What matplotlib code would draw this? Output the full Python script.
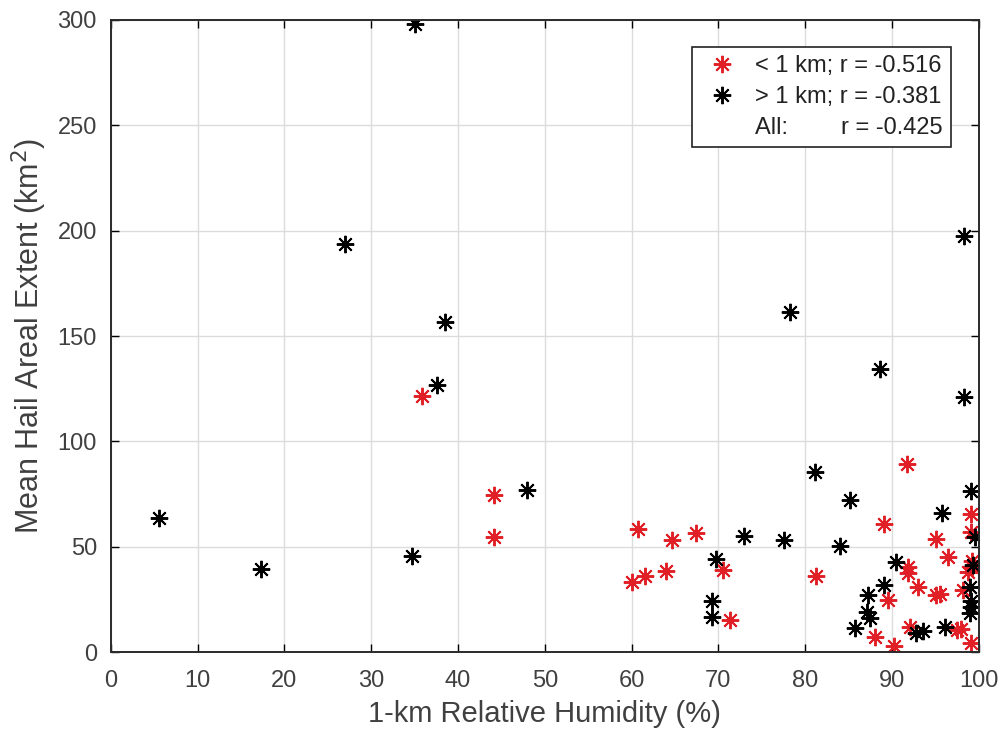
import matplotlib
matplotlib.use("Agg")
import matplotlib.pyplot as plt
from matplotlib.lines import Line2D

plt.rcParams['font.family'] = ['Liberation Sans', 'DejaVu Sans']

# < 1 km cases (red)
low_rh = [35.8, 44.1, 44.1, 60.8, 64.7, 67.4, 70.5, 60.0, 61.5, 64.0, 71.4, 81.2,
          91.7, 89.1, 99.1, 99.1, 95.1, 96.5, 91.8, 91.9, 93.0, 95.1, 95.6, 89.6,
          98.2, 88.0, 92.1, 97.5, 98.0, 90.3, 99.1, 99.2, 99.2, 98.8]
low_area = [121.5, 74.5, 54.4, 58.2, 53.2, 56.3, 38.9, 33.4, 36.2, 38.4, 15.2, 36.2,
            89.1, 60.7, 65.4, 57.1, 53.5, 45.2, 40.5, 37.4, 31.0, 27.1, 27.6, 24.7,
            29.4, 7.0, 12.0, 10.4, 10.8, 2.8, 4.4, 43.0, 40.3, 37.8]

# > 1 km cases (black)
high_rh = [5.6, 17.3, 27.0, 35.0, 38.5, 37.6, 34.7, 48.0, 69.7, 73.0, 77.6, 69.3,
           69.3, 78.3, 88.6, 98.3, 98.3, 81.1, 85.2, 95.8, 99.1, 99.6, 84.0, 90.5,
           89.1, 87.3, 87.1, 87.5, 85.7, 92.8, 93.6, 96.1, 99.3, 99.0, 99.1, 99.1, 99.0]
high_area = [63.7, 39.2, 193.6, 298.0, 156.8, 126.7, 45.7, 76.9, 44.0, 55.1, 53.2, 24.3,
             16.8, 161.2, 134.2, 197.4, 120.9, 85.4, 72.1, 66.1, 76.4, 54.7, 50.3, 42.9,
             31.8, 27.1, 19.1, 16.0, 11.2, 8.9, 10.1, 12.0, 41.5, 31.0, 24.0, 21.5, 18.4]

labels = ['< 1 km; r = -0.516', '> 1 km; r = -0.381', 'All:        r = -0.425']

fig = plt.figure(figsize=(10.01, 7.35), dpi=100)
ax = fig.add_axes([0.1107, 0.1129, 0.867, 0.8599])

star = (8, 2, 0)
ax.plot(low_rh, low_area, linestyle='none', marker=star, color='#e01f26',
        markersize=12.5, markeredgewidth=1.4, label=labels[0])
ax.plot(high_rh, high_area, linestyle='none', marker=star, color='black',
        markersize=12.5, markeredgewidth=1.4, label=labels[1])

ax.set_xlim(0, 100)
ax.set_ylim(0, 300)
ax.set_xticks(range(0, 101, 10))
ax.set_yticks(range(0, 301, 50))
ax.grid(True, color='#dcdcdc', linewidth=1)
ax.set_axisbelow(True)
ax.tick_params(direction='in', top=True, right=True, length=6, width=1,
               labelsize=17, labelcolor='#404040')
ax.tick_params(axis='x', pad=13)
ax.tick_params(axis='y', pad=10)
for s in ax.spines.values():
    s.set_linewidth(1.4)
    s.set_color('#2a2a2a')

ax.set_xlabel('1-km Relative Humidity (%)', fontsize=21, color='#404040', labelpad=6)
ax.set_ylabel('Mean Hail Areal Extent (km$^2$)', fontsize=22, color='#404040', labelpad=6)

handles, _ = ax.get_legend_handles_labels()
handles.append(Line2D([], [], linestyle='none', marker=None))
leg = ax.legend(handles, labels, loc='upper right', fontsize=17, fancybox=False,
                edgecolor='#222222', framealpha=1, handletextpad=0.5,
                borderaxespad=0, labelspacing=0.38, handlelength=1.8,
                borderpad=0.35, bbox_to_anchor=(0.9678, 0.9578))
leg.get_frame().set_linewidth(1.2)
for t in leg.get_texts():
    t.set_color('#222222')

fig.savefig('out.png', dpi=100)
